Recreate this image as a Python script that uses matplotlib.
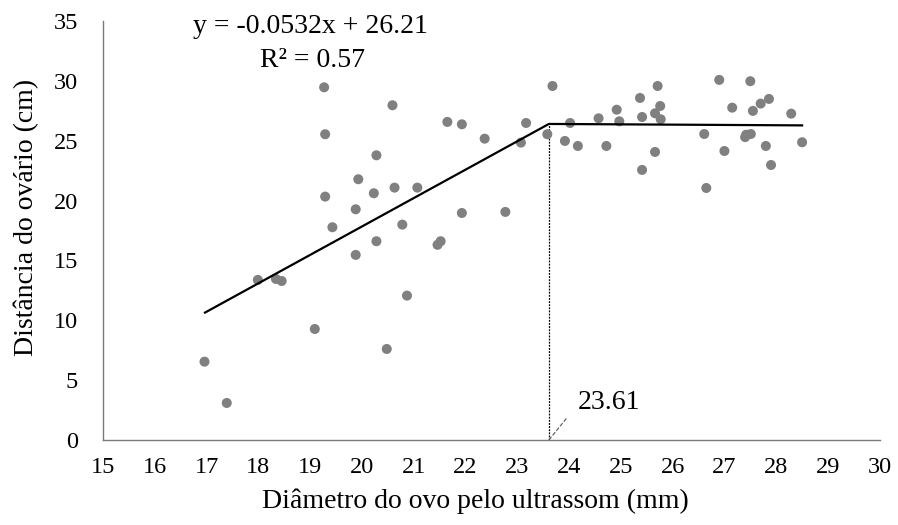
import matplotlib
matplotlib.use("Agg")
import matplotlib.pyplot as plt

# egg diameter (mm) vs ovary distance (cm)
diam = [16.96, 17.39, 17.99, 18.34, 18.45, 19.09, 19.27, 19.29, 19.29, 19.43,
        19.88, 19.88, 19.93, 20.23, 20.28, 20.28, 20.48, 20.59, 20.63, 20.78,
        20.87, 21.07, 21.46, 21.52, 21.65, 21.93, 21.93, 22.37, 22.77, 23.07,
        23.17, 23.58, 23.68, 23.92, 24.02, 24.17, 24.57, 24.72, 24.92, 24.97,
        25.37, 25.41, 25.41, 25.66, 25.66, 25.71, 25.76, 25.77, 26.61, 26.65,
        26.90, 27.00, 27.15, 27.40, 27.42, 27.51, 27.50, 27.55, 27.70, 27.80,
        27.86, 27.90, 28.29, 28.50]
dist = [6.54, 3.09, 13.37, 13.45, 13.28, 9.27, 29.46, 25.54, 20.33, 17.77,
        19.27, 15.46, 21.78, 20.61, 23.78, 16.60, 7.60, 27.96, 21.08, 17.99,
        12.06, 21.08, 16.30, 16.60, 26.57, 26.37, 18.96, 25.17, 19.05, 24.84,
        26.48, 25.54, 29.57, 24.98, 26.48, 24.56, 26.87, 24.56, 27.59, 26.62,
        28.57, 26.98, 22.56, 27.29, 24.06, 29.57, 27.90, 26.79, 25.56, 21.05,
        30.08, 24.14, 27.76, 25.30, 25.50, 25.56, 29.97, 27.49, 28.10, 24.56,
        28.49, 22.97, 27.26, 24.87]

# broken-line fit
fit_x = [16.97, 23.61, 28.50]
fit_y = [10.64, 26.40, 26.28]
breakpoint = 23.61

plt.rcParams['font.family'] = ['Liberation Serif', 'DejaVu Serif']

fig = plt.figure(figsize=(8.98, 5.25), dpi=100)
ax = fig.add_axes([0.1147, 0.162, 0.865, 0.798])

ax.scatter(diam, dist, s=52, color="#808080", edgecolors="none", zorder=3)
ax.plot(fit_x, fit_y, color="black", linewidth=1.6, zorder=4)
ax.plot([breakpoint, breakpoint], [0, fit_y[1]], color="black",
        linestyle=(0, (1.5, 1)), linewidth=0.9, zorder=2)

# label at the breakpoint, with a short leader
ax.plot([breakpoint, 23.95], [0, 1.8], color="#555555", linestyle="--",
        linewidth=0.8, zorder=2)
ax.text(24.17, 3.17, "23.61", fontsize=20, ha="left", va="center")

ax.text(19.0, 34.5, "y = -0.0532x + 26.21", fontsize=20, ha="center", va="center")
ax.text(19.05, 31.7, "R² = 0.57", fontsize=20, ha="center", va="center")

ax.set_xlim(15, 30)
ax.set_ylim(0, 35)
ax.set_xticks(range(15, 31))
ax.set_yticks(range(0, 36, 5))
ax.tick_params(length=0, labelsize=17.5)
ax.tick_params(axis="x", pad=12)
ax.tick_params(axis="y", pad=18)

for s in ["top", "right"]:
    ax.spines[s].set_visible(False)
for s in ["left", "bottom"]:
    ax.spines[s].set_color("#7a7a7a")
    ax.spines[s].set_linewidth(1.0)

ax.set_xlabel("Diâmetro do ovo pelo ultrassom (mm)", fontsize=20, labelpad=8)
ax.xaxis.label.set_x(0.48)
ax.set_ylabel("Distância do ovário (cm)", fontsize=20)
ax.yaxis.set_label_coords(-0.082, 0.532)

fig.savefig("out.png", dpi=100)
